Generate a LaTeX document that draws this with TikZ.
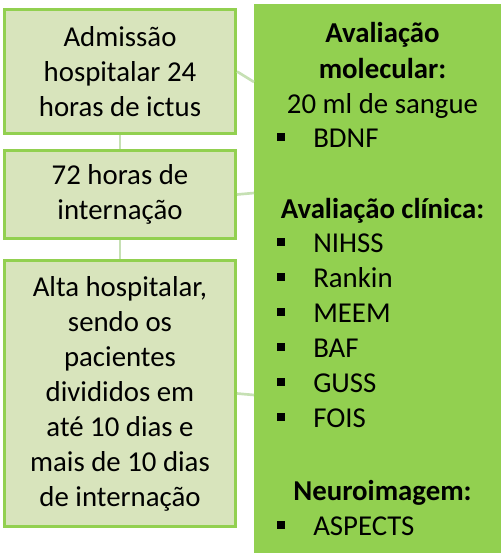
\documentclass[tikz,border=0pt]{standalone}
\usepackage{fontspec}
\setmainfont{Carlito}
\usetikzlibrary{positioning}

\definecolor{boxfill}{RGB}{216,228,188}
\definecolor{boxline}{RGB}{146,208,80}
\definecolor{linkcol}{RGB}{198,224,180}
\newcommand{\bul}{\rule[4.25pt]{6pt}{6pt}\hspace{21pt}}
\tikzset{
	stage/.style={draw=boxline, line width=2.25pt, fill=boxfill, minimum width=173.25pt,
		inner sep=0pt, align=center, font=\fontsize{21.6}{26.25}\selectfont},
	panel/.style={fill=boxline, inner sep=0pt, outer sep=0pt, anchor=north west,
		minimum width=185.25pt, minimum height=411.75pt},
	link/.style={draw=linkcol, line width=2pt},
	head/.style={anchor=base, inner sep=0pt, font=\fontsize{21.6}{26.25}\selectfont\bfseries},
	txt/.style={anchor=base, inner sep=0pt, font=\fontsize{21.6}{26.25}\selectfont},
	item/.style={anchor=base west, inner sep=0pt, font=\fontsize{21.6}{26.25}\selectfont},
}

\begin{document}
\begin{tikzpicture}[x=0.75pt, y=-0.75pt]
	\useasboundingbox (0,0) rectangle (501,553);
	% stages
	\node [stage, minimum height=93pt] (adm) at (120,71.5) {Admissão\\hospitalar 24\\horas de ictus};
	\node [stage, minimum height=66pt, below=10.5pt of adm] (int) {72 horas de\\internação};
	\node [stage, minimum height=199.5pt, below=14.25pt of int] (alta) {Alta hospitalar,\\sendo os\\pacientes\\divididos em\\até 10 dias e\\mais de 10 dias\\de internação};
	% evaluation panel
	\node [panel] (eval) at (254,4) {};
	\node [head] (mol1) at (382.5,42) {Avaliação};
	\node [head] (mol2) at (382.5,78) {molecular:};
	\node [txt] (sang) at (382.5,113) {20 ml de sangue};
	\node [item] (bdnf) at (277,147) {\bul BDNF};
	\node [head] (clin) at (382.5,218) {Avaliação clínica:};
	\foreach \sc [count=\i] in {NIHSS,Rankin,MEEM,BAF,GUSS,FOIS}
		\node [item] (sc\i) at (277,217+35*\i) {\bul \sc};
	\node [head] (neuro) at (382.5,500) {Neuroimagem:};
	\node [item] (asp) at (277,535) {\bul ASPECTS};
	% links
	\coordinate (m1) at (254,82);
	\coordinate (m2) at (254,193);
	\coordinate (m3) at (254,395);
	\draw [link] (adm) -- (int);
	\draw [link] (int) -- (alta);
	\draw [link] (adm.east) -- (m1);
	\draw [link] (int.east) -- (m2);
	\draw [link] (alta.east) -- (m3);
\end{tikzpicture}
\end{document}
